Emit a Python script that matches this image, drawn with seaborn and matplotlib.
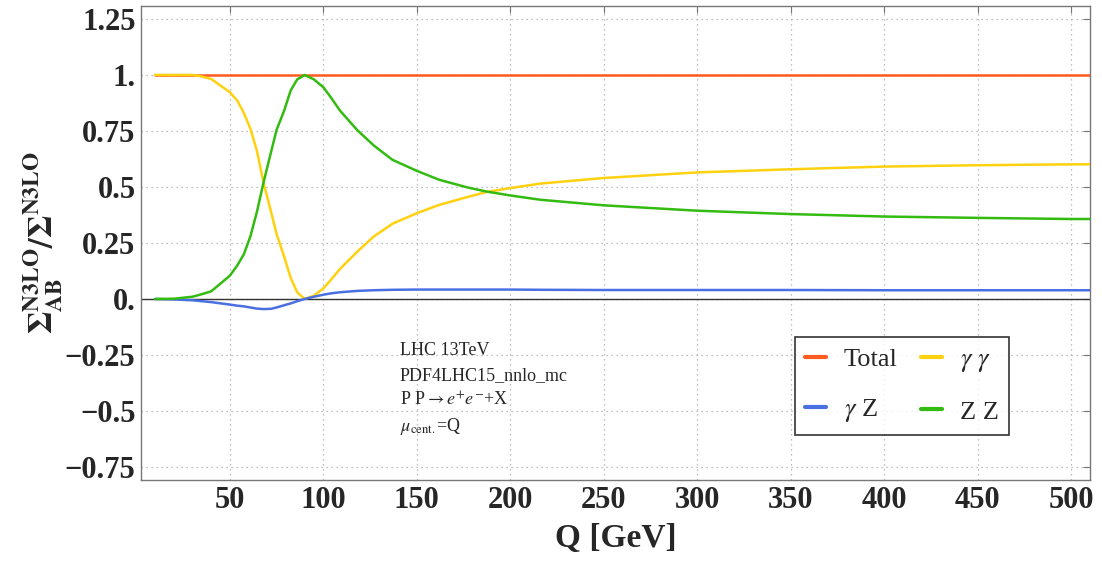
import numpy as np
import pandas as pd
import matplotlib
matplotlib.use("Agg")
import matplotlib.pyplot as plt
from matplotlib.lines import Line2D
import seaborn as sns

# ---------------- data ----------------
Q = [10, 20, 30, 34, 40, 50, 54, 57.5, 61, 64.5, 68, 72, 75, 79, 82.5, 86, 90, 95, 100,
     104, 109, 118, 127, 137, 150, 162, 177, 187, 200, 216, 250, 300, 350, 400, 450, 500, 510]
total = [1.0] * len(Q)
gamma_gamma = [1.0, 1.0, 1.0, 0.995, 0.982, 0.923, 0.885, 0.83, 0.76, 0.66, 0.52, 0.39,
               0.29, 0.19, 0.095, 0.03, 0.0, 0.015, 0.047, 0.085, 0.135, 0.21, 0.279,
               0.336, 0.383, 0.42, 0.455, 0.477, 0.495, 0.515, 0.54, 0.565, 0.579,
               0.591, 0.597, 0.601, 0.601]
zz = [0.0, 0.001, 0.01, 0.019, 0.034, 0.104, 0.15, 0.20, 0.28, 0.39, 0.52, 0.655,
      0.755, 0.84, 0.93, 0.98, 1.0, 0.98, 0.945, 0.9, 0.84, 0.755, 0.685, 0.621,
      0.572, 0.532, 0.498, 0.48, 0.462, 0.443, 0.418, 0.394, 0.379, 0.368, 0.362,
      0.357, 0.357]
gamma_z = [0.0, -0.002, -0.006, -0.009, -0.014, -0.025, -0.03, -0.033, -0.038, -0.043,
           -0.045, -0.044, -0.038, -0.028, -0.02, -0.01, 0.0, 0.01, 0.019, 0.025, 0.03,
           0.036, 0.039, 0.041, 0.042, 0.042, 0.042, 0.042, 0.042, 0.041, 0.04, 0.04,
           0.04, 0.039, 0.039, 0.039, 0.039]

series_names = ["Total", "γγ", "γZ", "ZZ"]
legend_labels = {"Total": "Total", "γγ": r"$\gamma\ \gamma$",
                 "γZ": r"$\gamma\ $Z", "ZZ": "Z Z"}
colors = ["#FF5A1F", "#FFD10F", "#4A6FE3", "#33BB11"]

x_ticks = [50, 100, 150, 200, 250, 300, 350, 400, 450, 500]
y_ticks = [-0.75, -0.5, -0.25, 0.0, 0.25, 0.5, 0.75, 1.0, 1.25]
y_tick_labels = ["−0.75", "−0.5", "−0.25", "0.", "0.25", "0.5", "0.75", "1.", "1.25"]

df = pd.DataFrame({
    "Q": Q * 4,
    "value": total + gamma_gamma + gamma_z + zz,
    "series": sum([[n] * len(Q) for n in ["Total", "γγ", "γZ", "ZZ"]], []),
})

# ---------------- plot ----------------
sns.set_style("white")
plt.rcParams["font.family"] = ["Liberation Serif", "DejaVu Serif"]
plt.rcParams["mathtext.fontset"] = "stix"

fig = plt.figure(figsize=(11.02, 5.61), dpi=100)
ax = fig.add_axes([0.128, 0.1444, 0.861, 0.845])

ax.axhline(0, color="#333333", lw=1.0, zorder=1)
sns.lineplot(data=df, x="Q", y="value", hue="series", hue_order=series_names,
             palette=dict(zip(series_names, colors)), lw=1.8, ax=ax,
             legend=False, sort=True, estimator=None, zorder=3)

ax.set_xlim(2.5, 510)
ax.set_ylim(-0.808, 1.308)
ax.set_xticks(x_ticks)
ax.set_xticklabels([str(t) for t in x_ticks])
ax.set_yticks(y_ticks)
ax.set_yticklabels(y_tick_labels)
ax.tick_params(direction="in", length=5, width=0.8, color="#777777",
               top=True, right=True, pad=4)
for lab in ax.get_xticklabels() + ax.get_yticklabels():
    lab.set_fontweight("bold")
    lab.set_fontsize(22)

ax.grid(True, linestyle=(0, (1, 3)), color="#aaaaaa", lw=0.9)
for s in ax.spines.values():
    s.set_color("#777777")
    s.set_linewidth(1.0)

ax.set_xlabel("Q [GeV]", fontsize=24, fontweight="bold", labelpad=6)
ax.set_ylabel(r"$\mathbf{\Sigma_{AB}^{N3LO}/\Sigma^{N3LO}}$", fontsize=24, labelpad=0)

# annotation block
txt_x = 141
ax.text(txt_x, -0.228, "LHC 13TeV", fontsize=13, va="center")
ax.text(txt_x, -0.340, "PDF4LHC15_nnlo_mc", fontsize=13, va="center")
ax.text(txt_x, -0.452, r"P P$\rightarrow e^{+}e^{-}$+X", fontsize=13, va="center")
ax.text(txt_x, -0.568, r"$\mu_{\mathrm{cent.}}$=Q", fontsize=13, va="center")

# legend
order = [0, 2, 1, 3]
handles = [Line2D([0], [0], color=colors[i], lw=3) for i in order]
labels = [legend_labels[series_names[i]] for i in order]
leg = ax.legend(handles, labels, ncol=2, loc="upper left",
                bbox_to_anchor=(0.689, 0.302), frameon=True, fancybox=False,
                fontsize=19, handlelength=0.8, handletextpad=0.65,
                columnspacing=0.9, labelspacing=1.0, borderpad=0.4,
                borderaxespad=0)
leg.get_frame().set_edgecolor("black")
leg.get_frame().set_linewidth(1.2)

fig.savefig("out.png", dpi=100)
